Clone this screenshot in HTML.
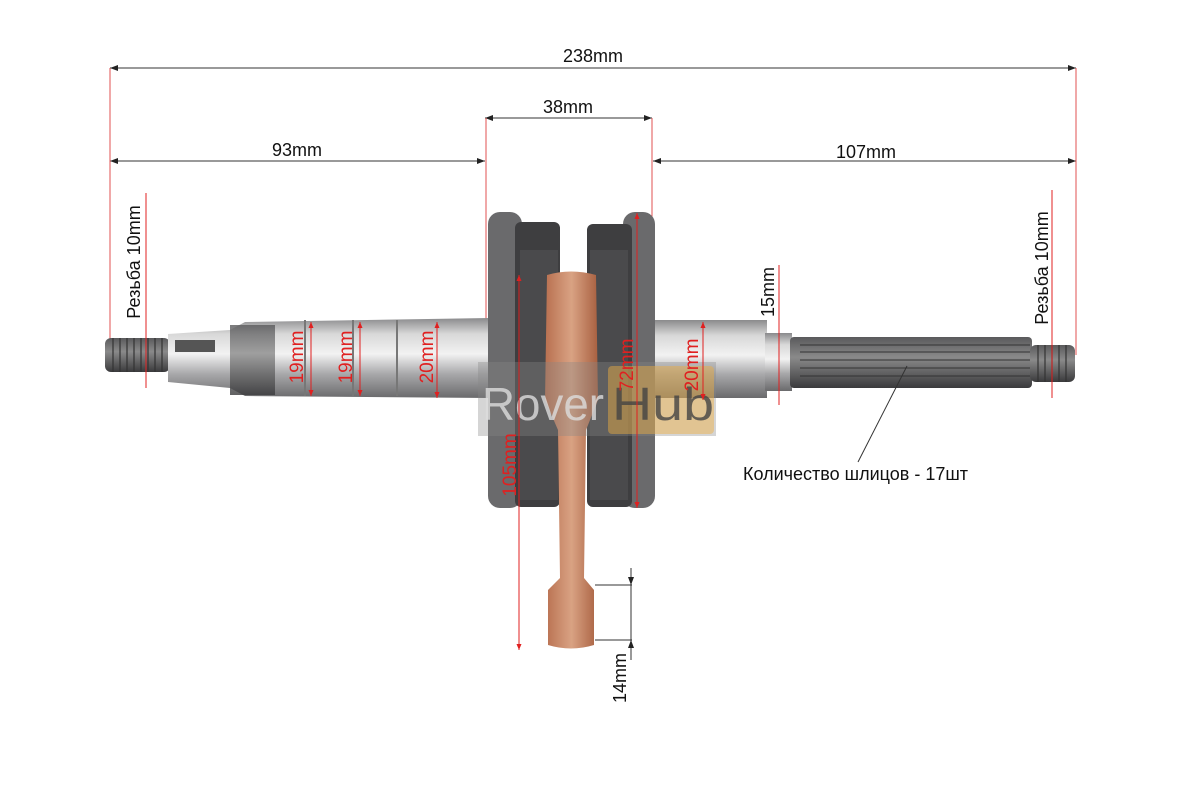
<!DOCTYPE html>
<html><head><meta charset="utf-8"><style>
html,body{margin:0;padding:0;background:#fff;}
svg{display:block;font-family:"Liberation Sans",Arial,sans-serif;}
</style></head><body>
<svg width="1196" height="800" viewBox="0 0 1196 800" xmlns="http://www.w3.org/2000/svg">
<defs>
<linearGradient id="steel" x1="0" y1="0" x2="0" y2="1">
<stop offset="0" stop-color="#8a8a8c"/><stop offset="0.2" stop-color="#d8d8d8"/><stop offset="0.45" stop-color="#f2f2f2"/><stop offset="0.7" stop-color="#a8a8aa"/><stop offset="1" stop-color="#6a6a6c"/>
</linearGradient>
<linearGradient id="dark" x1="0" y1="0" x2="0" y2="1">
<stop offset="0" stop-color="#5a5a5c"/><stop offset="0.4" stop-color="#8a8a8a"/><stop offset="1" stop-color="#3a3a3c"/>
</linearGradient>
<linearGradient id="cu" x1="0" y1="0" x2="1" y2="0">
<stop offset="0" stop-color="#b87050"/><stop offset="0.5" stop-color="#d9a283"/><stop offset="1" stop-color="#a86040"/>
</linearGradient>
<marker id="ab" markerWidth="8" markerHeight="6" refX="8" refY="3" orient="auto-start-reverse"><path d="M0,0 L8,3 L0,6z" fill="#222"/></marker>
<marker id="ar" markerWidth="6" markerHeight="5" refX="6" refY="2.5" orient="auto-start-reverse"><path d="M0,0 L6,2.5 L0,5z" fill="#e02020"/></marker>
</defs>
<rect width="1196" height="800" fill="#fff"/>

<g stroke="#333" stroke-width="1" fill="none">
<line x1="110" y1="68" x2="1076" y2="68" marker-start="url(#ab)" marker-end="url(#ab)"/>
<line x1="110" y1="161" x2="485" y2="161" marker-start="url(#ab)" marker-end="url(#ab)"/>
<line x1="485" y1="118" x2="652" y2="118" marker-start="url(#ab)" marker-end="url(#ab)"/>
<line x1="653" y1="161" x2="1076" y2="161" marker-start="url(#ab)" marker-end="url(#ab)"/>
</g>
<g stroke="#e05050" stroke-width="1">
<line x1="110" y1="68" x2="110" y2="360"/>
<line x1="1076" y1="68" x2="1076" y2="355"/>
<line x1="486" y1="118" x2="486" y2="330"/>
<line x1="652" y1="118" x2="652" y2="330"/>
</g>
<g font-size="18" fill="#111" text-anchor="middle">
<text x="593" y="62">238mm</text>
<text x="297" y="156">93mm</text>
<text x="568" y="113">38mm</text>
<text x="866" y="158">107mm</text>
</g>

<rect x="105" y="338" width="65" height="34" rx="6" fill="url(#dark)"/>
<g stroke="#333" stroke-width="1.2">
<line x1="113" y1="338" x2="113" y2="372"/><line x1="120" y1="338" x2="120" y2="372"/><line x1="127" y1="338" x2="127" y2="372"/><line x1="134" y1="338" x2="134" y2="372"/><line x1="141" y1="338" x2="141" y2="372"/><line x1="148" y1="338" x2="148" y2="372"/><line x1="155" y1="338" x2="155" y2="372"/><line x1="162" y1="338" x2="162" y2="372"/>
</g>
<path d="M168,334 L230,330 L245,322 L490,318 L490,398 L245,396 L230,388 L168,382 Z" fill="url(#steel)"/>
<rect x="175" y="340" width="40" height="12" fill="#555"/>
<rect x="230" y="325" width="45" height="70" fill="url(#dark)" opacity="0.8"/>
<g stroke="#777" stroke-width="2"><line x1="305" y1="320" x2="305" y2="396"/><line x1="353" y1="320" x2="353" y2="396"/><line x1="397" y1="320" x2="397" y2="396"/></g>

<rect x="652" y="320" width="115" height="78" fill="url(#steel)"/>
<rect x="765" y="333" width="27" height="58" fill="url(#steel)"/>
<rect x="790" y="337" width="242" height="51" rx="4" fill="url(#dark)"/>
<g stroke="#333" stroke-width="1"><line x1="800" y1="345" x2="1030" y2="345"/><line x1="800" y1="352" x2="1030" y2="352"/><line x1="800" y1="360" x2="1030" y2="360"/><line x1="800" y1="368" x2="1030" y2="368"/><line x1="800" y1="376" x2="1030" y2="376"/></g>
<rect x="1030" y="345" width="45" height="37" rx="6" fill="url(#dark)"/>
<g stroke="#333" stroke-width="1.2"><line x1="1038" y1="345" x2="1038" y2="382"/><line x1="1045" y1="345" x2="1045" y2="382"/><line x1="1052" y1="345" x2="1052" y2="382"/><line x1="1059" y1="345" x2="1059" y2="382"/><line x1="1066" y1="345" x2="1066" y2="382"/></g>

<rect x="488" y="212" width="34" height="296" rx="12" fill="#6a6a6c"/>
<rect x="623" y="212" width="32" height="296" rx="12" fill="#6a6a6c"/>
<rect x="515" y="222" width="45" height="285" rx="6" fill="#3e3e40"/>
<rect x="587" y="224" width="45" height="283" rx="6" fill="#3e3e40"/>
<rect x="520" y="250" width="38" height="250" fill="#4a4a4c"/>
<rect x="590" y="250" width="38" height="250" fill="#4a4a4c"/>
<path d="M547,275 Q571,268 596,275 L598,400 L586,430 L584,578 L594,590 L594,645 Q571,652 548,645 L548,590 L560,578 L558,430 L545,400 Z" fill="url(#cu)"/>

<rect x="478" y="362" width="238" height="74" fill="#888" opacity="0.35"/>
<rect x="608" y="366" width="106" height="68" rx="4" fill="#f0b040" opacity="0.45"/>
<text x="482" y="420" font-size="46" fill="#ddd" opacity="0.8" textLength="122" lengthAdjust="spacingAndGlyphs">Rover</text>
<text x="612" y="420" font-size="46" fill="#444" opacity="0.8" textLength="102" lengthAdjust="spacingAndGlyphs">Hub</text>

<g stroke="#e02020" stroke-width="1">
<line x1="146" y1="193" x2="146" y2="388"/>
<line x1="1052" y1="190" x2="1052" y2="398"/>
<line x1="311" y1="322" x2="311" y2="396" marker-start="url(#ar)" marker-end="url(#ar)"/>
<line x1="360" y1="322" x2="360" y2="396" marker-start="url(#ar)" marker-end="url(#ar)"/>
<line x1="437" y1="322" x2="437" y2="398" marker-start="url(#ar)" marker-end="url(#ar)"/>
<line x1="519" y1="275" x2="519" y2="650" marker-start="url(#ar)" marker-end="url(#ar)"/>
<line x1="637" y1="213" x2="637" y2="508" marker-start="url(#ar)" marker-end="url(#ar)"/>
<line x1="703" y1="322" x2="703" y2="400" marker-start="url(#ar)" marker-end="url(#ar)"/>
<line x1="779" y1="265" x2="779" y2="405"/>
</g>
<g font-size="19" fill="#e02020" text-anchor="middle">
<text transform="translate(303,357) rotate(-90)">19mm</text>
<text transform="translate(352,357) rotate(-90)">19mm</text>
<text transform="translate(433,357) rotate(-90)">20mm</text>
<text transform="translate(516,465) rotate(-90)">105mm</text>
<text transform="translate(633,365) rotate(-90)">72mm</text>
<text transform="translate(698,365) rotate(-90)">20mm</text>
</g>
<g font-size="18" fill="#111" text-anchor="middle">
<text transform="translate(140,262) rotate(-90)">Резьба 10mm</text>
<text transform="translate(1048,268) rotate(-90)">Резьба 10mm</text>
<text transform="translate(774,292) rotate(-90)">15mm</text>
<text transform="translate(626,678) rotate(-90)">14mm</text>
</g>
<g stroke="#333" stroke-width="1" fill="none">
<line x1="595" y1="585" x2="632" y2="585"/>
<line x1="595" y1="640" x2="632" y2="640"/>
<line x1="631" y1="568" x2="631" y2="585" marker-end="url(#ab)"/>
<line x1="631" y1="585" x2="631" y2="640"/>
<line x1="631" y1="660" x2="631" y2="640" marker-end="url(#ab)"/>
<line x1="907" y1="366" x2="858" y2="462"/>
</g>
<text x="743" y="480" font-size="18" fill="#111">Количество шлицов - 17шт</text>
</svg>
</body></html>
